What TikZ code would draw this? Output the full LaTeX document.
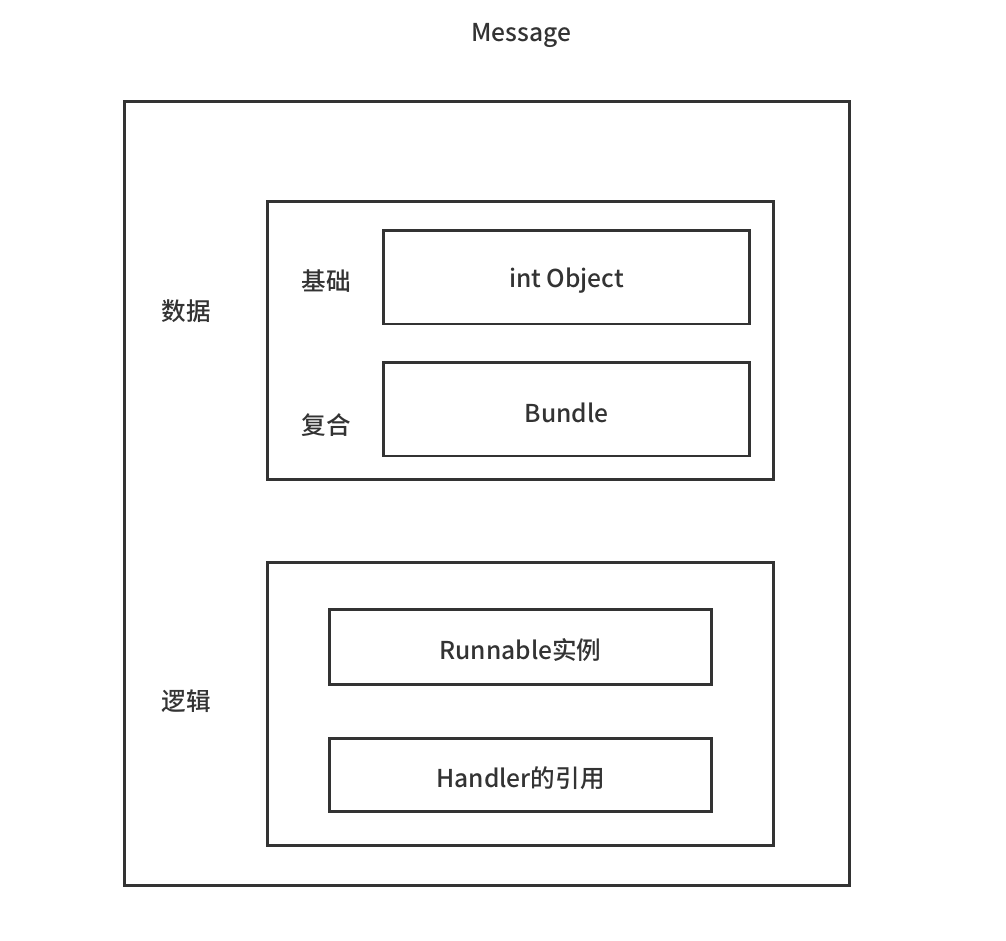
\documentclass[tikz,border=0pt]{standalone}
\usepackage{fontspec}
\setmainfont{Noto Sans CJK SC}[UprightFont=* Medium]
\definecolor{ink}{HTML}{333333}
\tikzset{
  box/.style={draw=ink, line width=1.7pt, rectangle, inner sep=0pt},
  lbl/.style={text=ink, font=\fontsize{14}{17}\selectfont},
}
\begin{document}
\begin{tikzpicture}[x=0.02cm, y=-0.02cm]
  \useasboundingbox (0,0) rectangle (1006,940);
  % title
  \node[lbl] (title) at (521,35) {Message};

  % outer frame
  \node[box, minimum width=14.52cm, minimum height=15.7cm] (msg) at (487,493.5) {};

  % data part
  \node[box, minimum width=10.14cm, minimum height=5.58cm] (data) at (520.5,340.5) {};
  \node[lbl] (datalbl) at (186,311) {数据};
  \node[lbl] (baselbl) at (326,281) {基础};
  \node[lbl] (complbl) at (326,425) {复合};
  \node[box, minimum width=7.34cm, minimum height=1.88cm] (intobj) at (566.5,277) {};
  \node[lbl] (intlbl) at (566.5,281) {int Object};
  \node[box, minimum width=7.34cm, minimum height=1.88cm] (bundle) at (566.5,409) {};
  \node[lbl] (bundlelbl) at (566.5,413) {Bundle};

  % logic part
  \node[box, minimum width=10.14cm, minimum height=5.68cm] (logic) at (520.5,704) {};
  \node[lbl] (logiclbl) at (186,701) {逻辑};
  \node[box, minimum width=7.66cm, minimum height=1.5cm] (runnable) at (520.5,646.5) {};
  \node[lbl] (runlbl) at (520.5,650) {Runnable实例};
  \node[box, minimum width=7.66cm, minimum height=1.46cm] (handler) at (520.5,774.5) {};
  \node[lbl] (handlbl) at (520.5,778) {Handler的引用};
\end{tikzpicture}
\end{document}
